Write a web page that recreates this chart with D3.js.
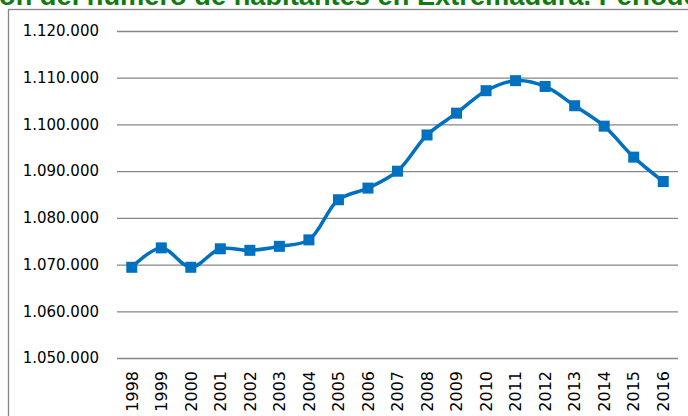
<!DOCTYPE html>
<html>
<head>
<meta charset="utf-8">
<script src="https://cdn.jsdelivr.net/npm/d3@7"></script>
<style>
  body { margin: 0; background: #fff; }
  svg { display: block; }
</style>
</head>
<body>
<svg id="chart"></svg>
<script>
var years = ["1998","1999","2000","2001","2002","2003","2004","2005","2006","2007",
             "2008","2009","2010","2011","2012","2013","2014","2015","2016"];
var habitantes = [1069419, 1073574, 1069420, 1073381, 1073050, 1073904, 1075286, 1083879,
                  1086373, 1089990, 1097744, 1102410, 1107220, 1109367, 1108130, 1104004,
                  1099632, 1092997, 1087778];
var yTicks = [1050000, 1060000, 1070000, 1080000, 1090000, 1100000, 1110000, 1120000];
var titleText = "Evolución del número de habitantes en Extremadura. Periodo 1998-2016";

var W = 688, H = 416;
// plot area (window.top is reserved, so no bare "top")
var pLeft = 117, pRight = 678, pTop = 31, pBottom = 358;

var svg = d3.select("#chart").attr("width", W).attr("height", H);

// chart frame (only top and left edges show)
svg.append("rect")
    .attr("x", 8.5).attr("y", 9.5)
    .attr("width", W + 20).attr("height", H + 20)
    .style("fill", "none").style("stroke", "#868686").style("stroke-width", 1.3);

// title, cut by the top edge: size it so "ón ... Extremadura. " spans ~600px
var title = svg.append("text")
    .style("font-family", "'Liberation Sans', Arial, sans-serif")
    .style("font-weight", "bold")
    .style("fill", "#117a11")
    .style("font-size", "100px")
    .text(titleText);
var iStart = titleText.indexOf("ón");
var iEnd = titleText.indexOf("Periodo");
var node = title.node();
var seg = node.getSubStringLength(iStart, iEnd - iStart);
var size = 100 * 600 / seg;
title.style("font-size", size + "px");
var pre = node.getSubStringLength(0, iStart);
title.attr("x", -pre - 1).attr("y", 5);

var x = d3.scaleBand().domain(years).range([pLeft, pRight]).padding(0);
var y = d3.scaleLinear().domain([1050000, 1120000]).range([pBottom, pTop]);

var fmt = function(v) {
    return d3.format(",")(v).replace(/,/g, ".");
};

var yAxis = svg.append("g")
    .attr("transform", "translate(" + pLeft + ",0)")
    .call(d3.axisLeft(y).tickValues(yTicks).tickSize(-(pRight - pLeft)).tickPadding(18).tickFormat(fmt));
yAxis.select(".domain").remove();
yAxis.selectAll(".tick line").style("stroke", "#868686").style("stroke-width", 1.3);
yAxis.selectAll(".tick text")
    .style("font-family", "'DejaVu Sans', sans-serif")
    .style("font-size", "15px")
    .style("fill", "#000");

var xAxis = svg.append("g")
    .attr("transform", "translate(0," + pBottom + ")")
    .call(d3.axisBottom(x).tickSize(0));
xAxis.select(".domain").remove();
xAxis.selectAll(".tick text")
    .attr("transform", "rotate(-90)")
    .attr("x", -13).attr("y", 0).attr("dy", "0.36em")
    .style("text-anchor", "end")
    .style("font-family", "'DejaVu Sans', sans-serif")
    .style("font-size", "16px")
    .style("fill", "#000");

var cx = function(d, i) { return x(years[i]) + x.bandwidth() / 2; };

var line = d3.line()
    .x(cx)
    .y(function(d) { return y(d); })
    .curve(d3.curveCatmullRom.alpha(0.5));

svg.append("path")
    .datum(habitantes)
    .attr("d", line)
    .style("fill", "none")
    .style("stroke", "#0070C0")
    .style("stroke-width", 3.5)
    .style("stroke-linejoin", "round");

var m = 11;
svg.selectAll(".marker")
    .data(habitantes)
    .enter().append("rect")
    .attr("class", "marker")
    .attr("x", function(d, i) { return cx(d, i) - m / 2; })
    .attr("y", function(d) { return y(d) - m / 2; })
    .attr("width", m).attr("height", m)
    .style("fill", "#0070C0");
</script>
</body>
</html>
